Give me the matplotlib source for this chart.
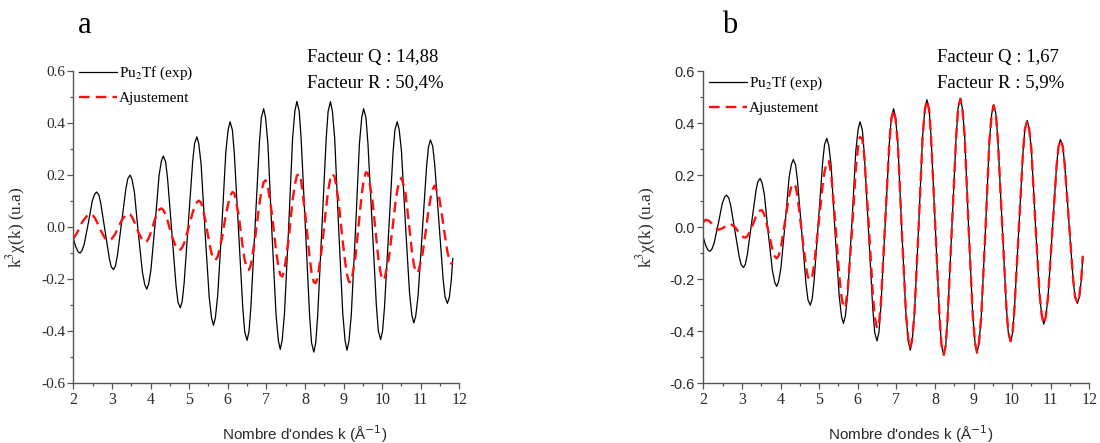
import matplotlib
matplotlib.use("Agg")
import matplotlib.pyplot as plt
from matplotlib.ticker import MultipleLocator

plt.rcParams["font.family"] = ["Liberation Serif", "DejaVu Serif"]
plt.rcParams["mathtext.fontset"] = "stix"

# k grid (A^-1) (denser around the extrema)
aK = [2.00, 2.06, 2.12,
      2.17, 2.22, 2.28, 2.39, 2.49, 2.55,
      2.60, 2.66, 2.71, 2.82, 2.93, 2.98,
      3.04, 3.09, 3.14, 3.25, 3.36, 3.41,
      3.47, 3.52, 3.58, 3.68, 3.79, 3.85,
      3.90, 3.95, 4.01, 4.12, 4.22, 4.28,
      4.33, 4.39, 4.44, 4.55, 4.66, 4.71,
      4.77, 4.82, 4.87, 4.98, 5.09, 5.14,
      5.20, 5.25, 5.31, 5.41, 5.52, 5.58,
      5.63, 5.68, 5.74, 5.85, 5.95, 6.01,
      6.06, 6.12, 6.17, 6.28, 6.39, 6.44,
      6.50, 6.55, 6.60, 6.71, 6.82, 6.87,
      6.93, 6.98, 7.04, 7.14, 7.25, 7.31,
      7.36, 7.41, 7.47, 7.58, 7.68, 7.74,
      7.79, 7.85, 7.90, 8.01, 8.12, 8.17,
      8.23, 8.28, 8.33, 8.44, 8.55, 8.60,
      8.66, 8.71, 8.77, 8.87, 8.98, 9.04,
      9.09, 9.14, 9.20, 9.31, 9.41, 9.47,
      9.52, 9.58, 9.63, 9.74, 9.85, 9.90,
      9.96, 10.01, 10.06, 10.17, 10.28, 10.33,
      10.39, 10.44, 10.50, 10.60, 10.71, 10.77,
      10.82, 10.87, 10.93, 11.04, 11.15, 11.20,
      11.25, 11.31, 11.36, 11.47, 11.58, 11.63,
      11.69, 11.74, 11.79, 11.83]

# panel a
aExp_a = [-0.045, -0.075, -0.094,
          -0.100, -0.091, -0.066, 0.018, 0.101, 0.126,
          0.135, 0.124, 0.091, -0.014, -0.119, -0.152,
          -0.163, -0.149, -0.110, 0.019, 0.147, 0.186,
          0.200, 0.183, 0.136, -0.019, -0.174, -0.221,
          -0.238, -0.219, -0.163, 0.018, 0.198, 0.254,
          0.273, 0.251, 0.188, -0.019, -0.225, -0.288,
          -0.310, -0.285, -0.214, 0.019, 0.251, 0.322,
          0.347, 0.319, 0.241, -0.015, -0.271, -0.349,
          -0.377, -0.347, -0.262, 0.014, 0.290, 0.375,
          0.405, 0.373, 0.282, -0.015, -0.312, -0.403,
          -0.435, -0.401, -0.305, 0.010, 0.325, 0.421,
          0.455, 0.420, 0.320, -0.008, -0.335, -0.435,
          -0.470, -0.434, -0.330, 0.007, 0.343, 0.447,
          0.483, 0.447, 0.342, 0.002, -0.339, -0.444,
          -0.480, -0.443, -0.339, 0.001, 0.341, 0.445,
          0.482, 0.446, 0.342, 0.005, -0.333, -0.437,
          -0.473, -0.438, -0.337, -0.009, 0.319, 0.420,
          0.455, 0.421, 0.325, 0.012, -0.302, -0.398,
          -0.432, -0.400, -0.309, -0.014, 0.282, 0.373,
          0.405, 0.376, 0.292, 0.019, -0.255, -0.339,
          -0.368, -0.341, -0.265, -0.017, 0.232, 0.308,
          0.335, 0.311, 0.243, 0.021, -0.201, -0.269,
          -0.293, -0.270, -0.205, -0.120]
aFit_a = [-0.045, -0.030, -0.015,
          0.000, 0.017, 0.030, 0.050, 0.048, 0.037,
          0.023, 0.003, -0.013, -0.043, -0.052, -0.047,
          -0.036, -0.024, -0.008, 0.026, 0.048, 0.052,
          0.049, 0.039, 0.020, -0.018, -0.051, -0.058,
          -0.055, -0.043, -0.020, 0.034, 0.067, 0.072,
          0.066, 0.048, 0.025, -0.033, -0.078, -0.087,
          -0.087, -0.078, -0.061, -0.005, 0.056, 0.078,
          0.096, 0.102, 0.094, 0.034, -0.059, -0.101,
          -0.121, -0.127, -0.113, -0.043, 0.048, 0.089,
          0.119, 0.135, 0.131, 0.050, -0.079, -0.127,
          -0.160, -0.164, -0.144, -0.041, 0.090, 0.137,
          0.173, 0.180, 0.156, 0.056, -0.088, -0.151,
          -0.183, -0.190, -0.164, -0.042, 0.105, 0.164,
          0.198, 0.205, 0.178, 0.047, -0.116, -0.173,
          -0.212, -0.215, -0.194, -0.078, 0.077, 0.140,
          0.189, 0.205, 0.193, 0.101, -0.058, -0.132,
          -0.182, -0.211, -0.211, -0.113, 0.039, 0.125,
          0.179, 0.211, 0.208, 0.113, -0.048, -0.118,
          -0.177, -0.203, -0.200, -0.123, 0.011, 0.078,
          0.141, 0.174, 0.190, 0.136, -0.009, -0.092,
          -0.143, -0.172, -0.175, -0.109, 0.006, 0.064,
          0.109, 0.146, 0.160, 0.121, 0.015, -0.038,
          -0.095, -0.125, -0.140, -0.135]

# panel b
aExp_b = [-0.040, -0.070, -0.088,
          -0.093, -0.085, -0.061, 0.015, 0.091, 0.115,
          0.123, 0.112, 0.082, -0.016, -0.114, -0.144,
          -0.155, -0.142, -0.105, 0.016, 0.137, 0.174,
          0.187, 0.171, 0.126, -0.021, -0.167, -0.212,
          -0.228, -0.209, -0.157, 0.016, 0.189, 0.241,
          0.260, 0.239, 0.178, -0.020, -0.218, -0.279,
          -0.300, -0.276, -0.206, 0.021, 0.247, 0.317,
          0.341, 0.314, 0.237, -0.015, -0.266, -0.343,
          -0.370, -0.341, -0.257, 0.018, 0.292, 0.376,
          0.405, 0.373, 0.282, -0.016, -0.314, -0.405,
          -0.437, -0.403, -0.306, 0.009, 0.324, 0.421,
          0.455, 0.420, 0.319, -0.009, -0.337, -0.438,
          -0.473, -0.437, -0.332, 0.009, 0.349, 0.454,
          0.490, 0.453, 0.346, -0.001, -0.348, -0.455,
          -0.492, -0.455, -0.347, 0.002, 0.350, 0.458,
          0.495, 0.458, 0.352, 0.006, -0.340, -0.446,
          -0.483, -0.447, -0.344, -0.007, 0.330, 0.434,
          0.470, 0.435, 0.337, 0.015, -0.307, -0.405,
          -0.440, -0.408, -0.315, -0.015, 0.285, 0.378,
          0.410, 0.381, 0.296, 0.019, -0.258, -0.343,
          -0.373, -0.346, -0.269, -0.018, 0.233, 0.310,
          0.337, 0.313, 0.245, 0.022, -0.201, -0.269,
          -0.293, -0.270, -0.205, -0.120]
aFit_b = [0.020, 0.028, 0.026,
          0.021, 0.013, 0.002, -0.010, -0.005, 0.001,
          0.007, 0.011, 0.012, 0.000, -0.022, -0.031,
          -0.039, -0.040, -0.035, -0.003, 0.040, 0.055,
          0.064, 0.065, 0.048, -0.012, -0.087, -0.112,
          -0.120, -0.110, -0.078, 0.024, 0.119, 0.155,
          0.168, 0.157, 0.118, -0.018, -0.154, -0.192,
          -0.204, -0.190, -0.144, 0.003, 0.161, 0.214,
          0.250, 0.254, 0.207, 0.034, -0.187, -0.268,
          -0.309, -0.307, -0.242, -0.017, 0.225, 0.310,
          0.347, 0.338, 0.272, 0.021, -0.257, -0.345,
          -0.389, -0.370, -0.293, 0.017, 0.328, 0.415,
          0.450, 0.416, 0.318, -0.010, -0.333, -0.432,
          -0.465, -0.430, -0.330, 0.008, 0.347, 0.452,
          0.488, 0.451, 0.345, -0.002, -0.347, -0.453,
          -0.490, -0.453, -0.346, 0.002, 0.349, 0.456,
          0.493, 0.456, 0.350, 0.005, -0.340, -0.445,
          -0.482, -0.446, -0.343, -0.007, 0.329, 0.432,
          0.468, 0.433, 0.336, 0.015, -0.306, -0.404,
          -0.438, -0.406, -0.313, -0.015, 0.284, 0.376,
          0.408, 0.379, 0.295, 0.019, -0.257, -0.341,
          -0.372, -0.345, -0.268, -0.018, 0.232, 0.309,
          0.335, 0.311, 0.244, 0.022, -0.200, -0.267,
          -0.290, -0.265, -0.200, -0.110]

aPanel = ['a', 'b']
aQ = ['14,88', '1,67']
aR = ['50,4%', '5,9%']
aExp = [aExp_a, aExp_b]
aFit = [aFit_a, aFit_b]

sLabel_exp = r'Pu$_2$Tf (exp)'
sLabel_fit = 'Ajustement'
sXlabel = r"Nombre d'ondes k (Å$^{-1}$)"
sYlabel = r'k$^3$χ(k) (u.a)'

fig = plt.figure(figsize=(11, 4.43), dpi=100)
aLeft = [0.0667, 0.6394]
aLegend_y = [1.019, 0.987]
aXlabel_x = [0.60, 0.538]
aPanel_x = [0.012, 0.049]
aYtick_family = ['Liberation Serif', 'Liberation Sans']

for i in range(2):
    ax = fig.add_axes([aLeft[i], 0.1348, 0.3509, 0.7049])
    ax.plot(aK, aExp[i], color='black', lw=0.9, label=sLabel_exp)
    ax.plot(aK, aFit[i], color='#ff1010', lw=1.7, dashes=(4.5, 2.6), label=sLabel_fit)

    ax.set_xlim(2, 12)
    ax.set_ylim(-0.6, 0.6)
    ax.xaxis.set_major_locator(MultipleLocator(1))
    ax.xaxis.set_minor_locator(MultipleLocator(0.5))
    ax.yaxis.set_major_locator(MultipleLocator(0.2))
    ax.yaxis.set_minor_locator(MultipleLocator(0.1))
    ax.yaxis.set_major_formatter(plt.FormatStrFormatter('%.1f'))

    for s in ['top', 'right']:
        ax.spines[s].set_visible(False)
    for s in ['left', 'bottom']:
        ax.spines[s].set_color('#555555')
        ax.spines[s].set_linewidth(1.0)
    ax.tick_params(which='major', direction='out', length=4, width=0.9, color='#555555',
                   labelsize=11, labelcolor='#2a2a2a', pad=2)
    ax.tick_params(which='minor', direction='out', length=2.5, width=0.9, color='#555555')
    for t in ax.get_xticklabels():
        t.set_fontfamily('Liberation Serif')
        t.set_fontsize(11.5)
    for t in ax.get_yticklabels():
        t.set_fontfamily(aYtick_family[i])
        t.set_fontsize(11 if i == 0 else 10.5)

    ax.set_xlabel(sXlabel, fontsize=11, family=['Liberation Sans', 'DejaVu Sans'],
                  math_fontfamily='dejavusans', color='#2a2a2a')
    ax.xaxis.set_label_coords(aXlabel_x[i], -0.128)
    ax.set_ylabel(sYlabel, fontsize=12.5, color='#2a2a2a')
    ax.yaxis.set_label_coords(-0.118, 0.5)

    ax.legend(loc='upper left', bbox_to_anchor=(0.015, aLegend_y[i]), frameon=False,
              fontsize=11, handlelength=2.5, handletextpad=0.1, labelspacing=0.6,
              borderaxespad=0, borderpad=0)

    ax.text(aPanel_x[i], 1.122, aPanel[i], transform=ax.transAxes,
            fontsize=22, ha='left', va='baseline')
    ax.text(0.605, 1.029, 'Facteur Q : ' + aQ[i], transform=ax.transAxes,
            fontsize=13.5, ha='left', va='baseline')
    ax.text(0.605, 0.949, 'Facteur R : ' + aR[i], transform=ax.transAxes,
            fontsize=13.5, ha='left', va='baseline')

plt.savefig('out.png', dpi=100)
